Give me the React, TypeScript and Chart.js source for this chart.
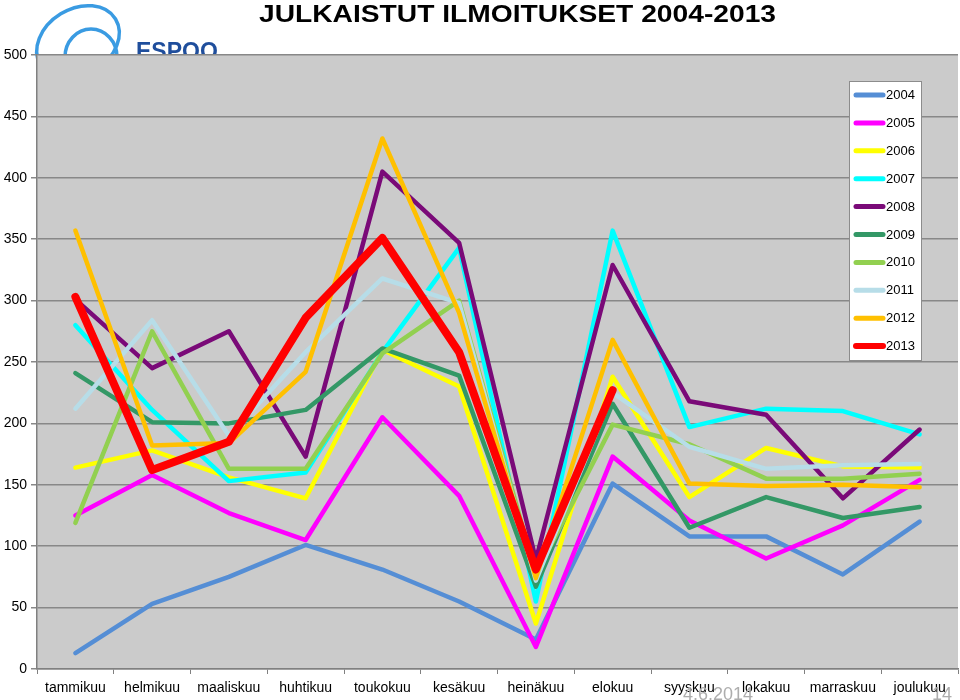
import React, { useEffect, useRef } from "react";
import { Chart, registerables } from "chart.js";

Chart.register(...registerables);

const categories = ["tammikuu", "helmikuu", "maaliskuu", "huhtikuu", "toukokuu", "kesäkuu", "heinäkuu", "elokuu", "syyskuu", "lokakuu", "marraskuu", "joulukuu"];
const years = ["2004", "2005", "2006", "2007", "2008", "2009", "2010", "2011", "2012", "2013"];
const v2004 = [13, 53, 75, 101, 81, 55, 24, 151, 108, 108, 77, 120];
const v2005 = [125, 158, 127, 105, 205, 141, 18, 173, 121, 90, 117, 154];
const v2006 = [164, 178, 156, 139, 260, 230, 37, 238, 140, 180, 165, 164];
const v2007 = [280, 211, 153, 160, 258, 343, 55, 357, 197, 212, 210, 191];
const v2008 = [301, 245, 275, 173, 405, 347, 89, 329, 218, 207, 139, 195];
const v2009 = [241, 201, 200, 211, 261, 239, 67, 216, 115, 140, 123, 132];
const v2010 = [119, 275, 163, 163, 257, 300, 77, 199, 183, 155, 155, 159];
const v2011 = [212, 284, 190, 258, 318, 298, 72, 225, 181, 163, 166, 167];
const v2012 = [357, 182, 184, 242, 432, 290, 74, 268, 151, 149, 150, 148];
const v2013 = [303, 162, 185, 286, 351, 258, 81, 227, null, null, null, null];
const seriesValues = [v2004, v2005, v2006, v2007, v2008, v2009, v2010, v2011, v2012, v2013];
const seriesColors = ["#558ed5", "#ff00ff", "#ffff00", "#00ffff", "#7a0a78", "#339866", "#92d050", "#b7dde8", "#ffc000", "#ff0000"];
const seriesWidths = [4.5, 4.5, 4.5, 4.5, 4.5, 4.5, 4.5, 4.5, 4.5, 8];
const yTicks = [0, 50, 100, 150, 200, 250, 300, 350, 400, 450, 500];
const titleText = "JULKAISTUT ILMOITUKSET 2004-2013";
const footerDate = "4.6.2014";
const footerPage = "14";

const FONT = '"Liberation Sans", Arial, sans-serif';

const decor = {
  id: "decor",
  beforeDraw(chart: any) {
    const ctx = chart.ctx;
    const a = chart.chartArea;
    ctx.save();
    // logo
    ctx.strokeStyle = "#3a9be2";
    ctx.lineWidth = 3.5;
    ctx.beginPath();
    ctx.ellipse(78, 42, 44, 33, -0.55, 0, Math.PI * 2);
    ctx.stroke();
    ctx.beginPath();
    ctx.ellipse(91, 57, 26, 28, 0, Math.PI, Math.PI * 2);
    ctx.stroke();
    ctx.fillStyle = "#1f4e9c";
    ctx.font = "bold 23px " + FONT;
    ctx.textBaseline = "alphabetic";
    ctx.textAlign = "left";
    ctx.fillText("ESPOO", 136, 59);
    // plot background
    ctx.fillStyle = "#cbcbcb";
    ctx.fillRect(a.left, a.top, a.right - a.left, a.bottom - a.top);
    ctx.restore();
  },
  afterDraw(chart: any) {
    const ctx = chart.ctx;
    ctx.save();
    // title
    ctx.font = "bold 24px " + FONT;
    ctx.fillStyle = "#000";
    ctx.textBaseline = "alphabetic";
    ctx.textAlign = "left";
    const tw = ctx.measureText(titleText).width;
    const targetW = 517;
    ctx.translate(259, 22);
    ctx.scale(targetW / tw, 1);
    ctx.fillText(titleText, 0, 0);
    ctx.restore();

    // legend
    ctx.save();
    const lx = 849, ly = 81, lw = 72, lh = 279;
    ctx.fillStyle = "#ffffff";
    ctx.fillRect(lx, ly, lw, lh);
    ctx.strokeStyle = "#8c8c8c";
    ctx.lineWidth = 1;
    ctx.strokeRect(lx + 0.5, ly + 0.5, lw, lh);
    ctx.font = "13px " + FONT;
    ctx.textBaseline = "middle";
    ctx.textAlign = "left";
    years.forEach((y, i) => {
      const cy = 95 + i * 27.9;
      ctx.strokeStyle = seriesColors[i];
      ctx.lineWidth = i === 9 ? 6 : 5;
      ctx.lineCap = "round";
      ctx.beginPath();
      ctx.moveTo(856, cy);
      ctx.lineTo(883, cy);
      ctx.stroke();
      ctx.fillStyle = "#000";
      ctx.fillText(y, 886, cy + 0.5);
    });
    ctx.restore();

    // footer
    ctx.save();
    ctx.font = "18px " + FONT;
    ctx.fillStyle = "#adadad";
    ctx.textBaseline = "alphabetic";
    ctx.textAlign = "left";
    ctx.fillText(footerDate, 683, 700);
    ctx.fillText(footerPage, 932, 700);
    ctx.restore();
  },
};

export default function App() {
  const ref = useRef<HTMLCanvasElement | null>(null);
  useEffect(() => {
    if (!ref.current) return;
    const datasets = years.map((y, i) => ({
      label: y,
      data: seriesValues[i],
      borderColor: seriesColors[i],
      backgroundColor: seriesColors[i],
      borderWidth: seriesWidths[i],
      pointRadius: 0,
      tension: 0,
      fill: false,
      spanGaps: false,
      borderJoinStyle: "round" as const,
      borderCapStyle: "round" as const,
      order: years.length - i,
    }));
    const chart = new Chart(ref.current, {
      type: "line",
      data: { labels: categories, datasets },
      options: {
        animation: false,
        responsive: false,
        maintainAspectRatio: false,
        layout: { padding: { top: 55, left: 0, right: 2, bottom: 0 } },
        plugins: { legend: { display: false }, tooltip: { enabled: false }, title: { display: false } },
        scales: {
          x: {
            type: "category",
            offset: true,
            grid: { display: true, drawOnChartArea: false, drawTicks: true, tickLength: 5, color: "#808080", offset: true, lineWidth: 1 },
            border: { display: true, color: "#808080", width: 1.5 },
            ticks: { font: { family: FONT, size: 14 }, color: "#000", padding: 6, maxRotation: 0, autoRotation: false, autoSkip: false } as any,
            afterFit(s: any) { s.height = 31; },
          },
          y: {
            min: 0,
            max: 500,
            afterBuildTicks(s: any) { s.ticks = yTicks.map((v) => ({ value: v })); },
            ticks: { font: { family: FONT, size: 14 }, color: "#000", padding: 4 },
            grid: { color: "#888888", lineWidth: 1.5, tickLength: 6, drawTicks: true },
            border: { display: true, color: "#808080", width: 1.5 },
            afterFit(s: any) { s.width = 37; },
          },
        },
      },
      plugins: [decor],
    });
    return () => chart.destroy();
  }, []);
  return (
    <div style={{ position: "fixed", left: 0, top: 0, width: 960, height: 700, background: "#fff" }}>
      <canvas ref={ref} width={960} height={700} style={{ display: "block" }} />
    </div>
  );
}
